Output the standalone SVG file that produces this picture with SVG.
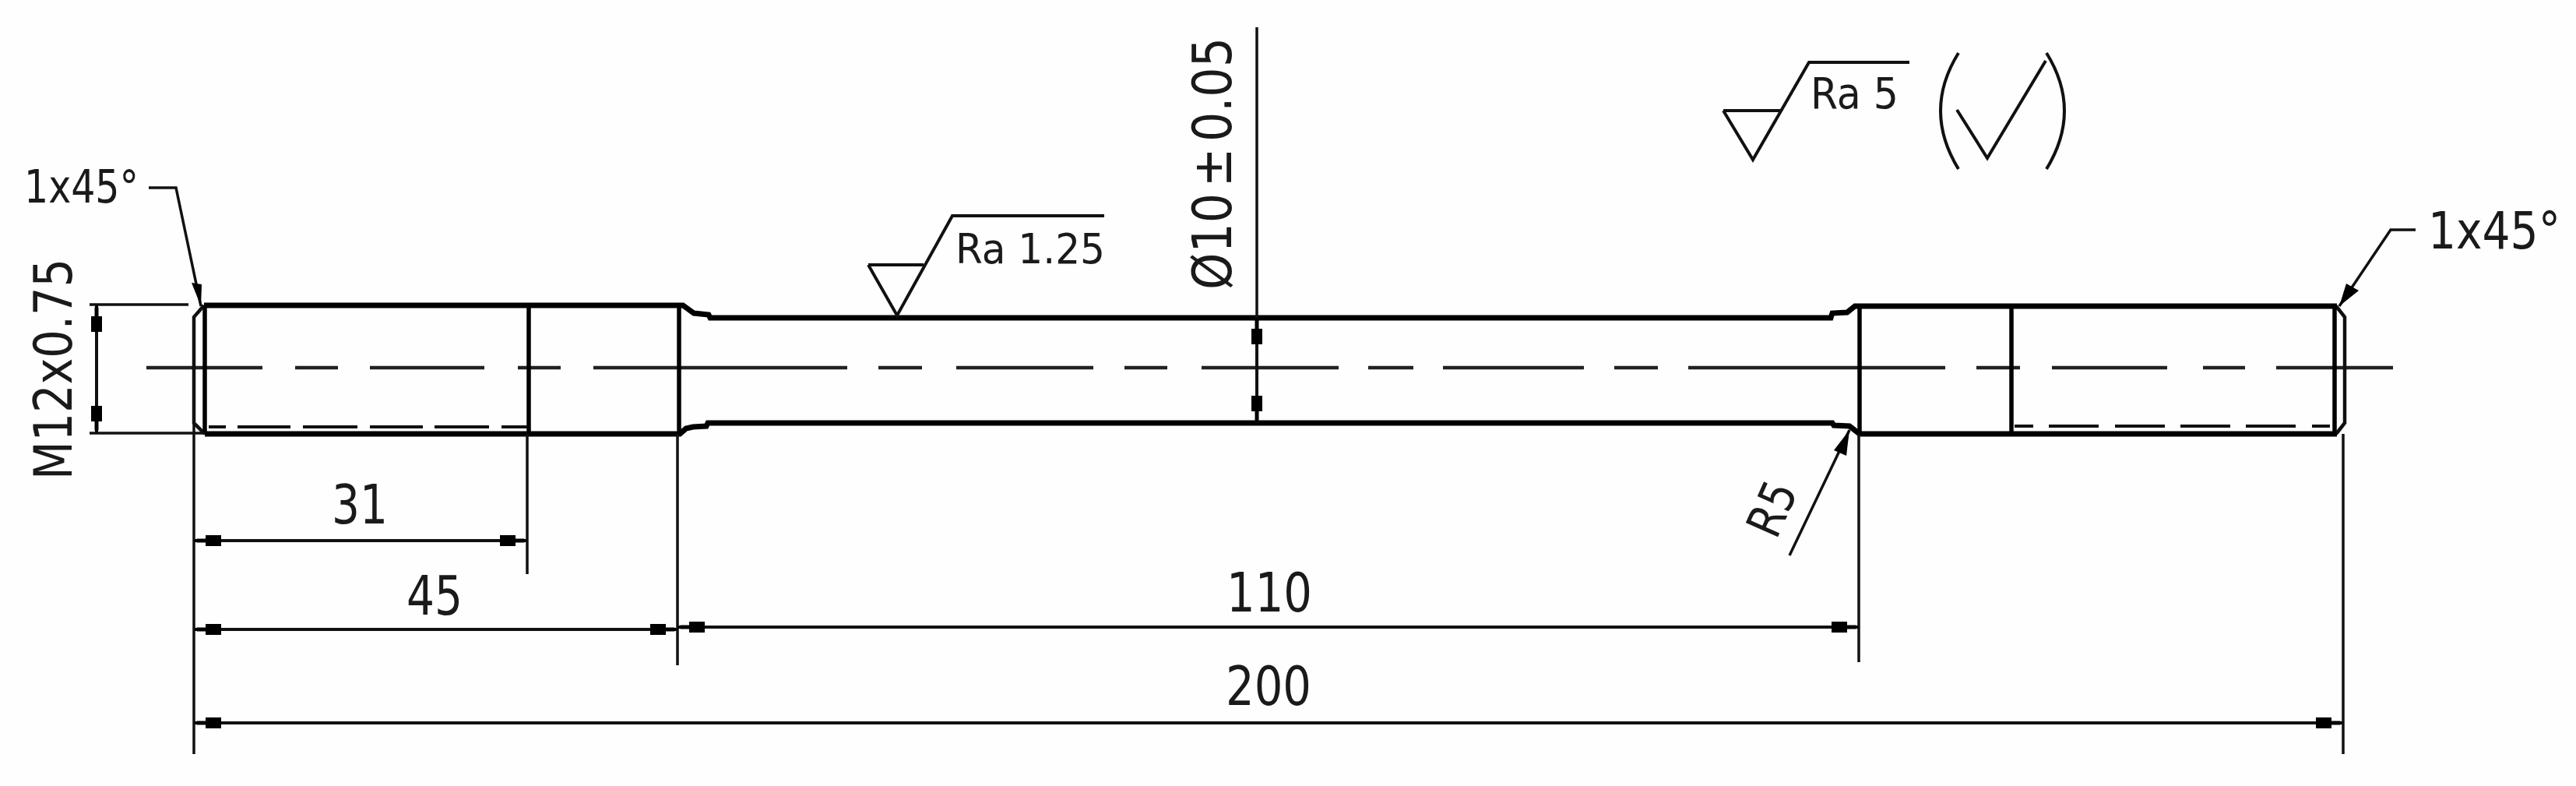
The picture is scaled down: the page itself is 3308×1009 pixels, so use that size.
<svg xmlns="http://www.w3.org/2000/svg" width="3308" height="1009" viewBox="0 0 3308 1009">
<style>
.thick{fill:none;stroke:#000;stroke-width:7;stroke-linejoin:miter}
.sect{fill:none;stroke:#000;stroke-width:5.5}
.end{fill:none;stroke:#111;stroke-width:4.5}
.center{fill:none;stroke:#222;stroke-width:4.5}
.thread{fill:none;stroke:#111;stroke-width:4}
.thin{fill:none;stroke:#111;stroke-width:3.5}
.dim{fill:none;stroke:#111;stroke-width:4;marker-start:url(#arw);marker-end:url(#arw)}
.sym{fill:none;stroke:#111;stroke-width:4}
.head{fill:#000}
text{font-family:"DejaVu Sans Condensed","DejaVu Sans","Liberation Sans",sans-serif;fill:#1a1a1a}
</style>
<defs>
<marker id="arw" markerUnits="userSpaceOnUse" viewBox="-36 -8 38 16" markerWidth="38" markerHeight="16" refX="0" refY="0" orient="auto-start-reverse">
<path d="M0,0 L-4,-2.5 L-15,-2.5 L-15,-7 L-35,-7 L-35,7 L-15,7 L-15,2.5 L-4,2.5 Z" fill="#000"/>
</marker>
</defs>
<rect width="3308" height="1009" fill="#fefefe"/>
<g id="part">
<path class="center" d="M188,472H337M379,472H434M475,472H622M665,472H720M762,472H1088M1128,472H1184M1228,472H1404M1444,472H1499M1543,472H1719M1757,472H1815M1853,472H2034M2073,472H2129M2168,472H2498M2538,472H2594M2635,472H2783M2829,472H2883M2923,472H3073"/>
<path class="thick" d="M262,392H877L891,402L910,404L912,408H2351L2353,402L2372,401L2382,393H3001"/>
<path class="thick" d="M263,557H873L881,550L890,548L907,547L909,543H2353L2355,546L2375,547L2388,557H3001"/>
<path class="end" d="M262,392L249,407V543L263,557"/>
<path class="end" d="M3000,393L3011,407V543L3000,557"/>
<path class="sect" d="M263,392V557M679,392V557M872,392V557M2388,393V557M2583,393V557M2998,393V557"/>
<path class="thread" d="M268,548H290M305,548H373M389,548H459M475,548H543M558,548H628M644,548H677"/>
<path class="thread" d="M2587,547H2611M2631,547H2695M2716,547H2780M2800,547H2864M2884,547H2948M2969,547H2992"/>
</g>
<g id="connectors">
<path class="thin" d="M115,391H242M115,556H263"/>
<path class="thin" d="M249,543V968M677,557V737M870,557V854M2387,557V850M3009,557V968"/>
<path class="dim" d="M124,391V556"/>
<path class="dim" d="M249,694H677"/>
<path class="dim" d="M249,808H870"/>
<path class="dim" d="M870,805H2387"/>
<path class="dim" d="M249,928H3009"/>
<path class="dim" d="M1614,407V543"/>
<path class="thin" d="M1614,35V407"/>
<path class="thin" d="M191,241H226L258,393"/>
<polygon class="head" points="258,393 259,365 246,363"/>
<path class="thin" d="M3102,295H3070L3004,393"/>
<polygon class="head" points="3004,393 3029,373 3013,364"/>
<path class="thin" d="M2298,713L2375,552"/>
<polygon class="head" points="2375,552 2371,585 2355,578"/>
</g>
<g id="finish-ra125">
<path class="sym" d="M1115,340H1186M1115,340L1152,405L1223,277H1418"/>
<text x="1227" y="338" font-size="54" textLength="192" lengthAdjust="spacingAndGlyphs">Ra 1.25</text>
</g>
<g id="finish-ra5">
<path class="sym" d="M2213,142H2286M2213,142L2251,205L2323,80H2452"/>
<text x="2325" y="139" font-size="56" textLength="113" lengthAdjust="spacingAndGlyphs">Ra 5</text>
<path class="sym" d="M2515,68Q2469,142 2515,217"/>
<path class="sym" d="M2628,68Q2674,142 2628,217"/>
<path class="sym" d="M2513,141L2552,203L2627,78"/>
</g>
<g id="labels">
<text x="31" y="260" font-size="58" textLength="147" lengthAdjust="spacingAndGlyphs">1x45°</text>
<text x="3118" y="319" font-size="66" textLength="170" lengthAdjust="spacingAndGlyphs">1x45°</text>
<text transform="translate(92,616) rotate(-90)" font-size="68" textLength="284" lengthAdjust="spacingAndGlyphs">M12x0.75</text>
<text transform="translate(1581,372) rotate(-90)" font-size="70" textLength="324" lengthAdjust="spacingAndGlyphs">Ø10<tspan dx="8">±</tspan><tspan dx="8">0.05</tspan></text>
<text x="426" y="672" font-size="70" textLength="72" lengthAdjust="spacingAndGlyphs">31</text>
<text x="522" y="789" font-size="70" textLength="72" lengthAdjust="spacingAndGlyphs">45</text>
<text x="1575" y="785" font-size="70" textLength="110" lengthAdjust="spacingAndGlyphs">110</text>
<text x="1574" y="905" font-size="70" textLength="110" lengthAdjust="spacingAndGlyphs">200</text>
<text transform="translate(2281,694) rotate(-66)" font-size="62" textLength="70" lengthAdjust="spacingAndGlyphs">R5</text>
</g>
</svg>
